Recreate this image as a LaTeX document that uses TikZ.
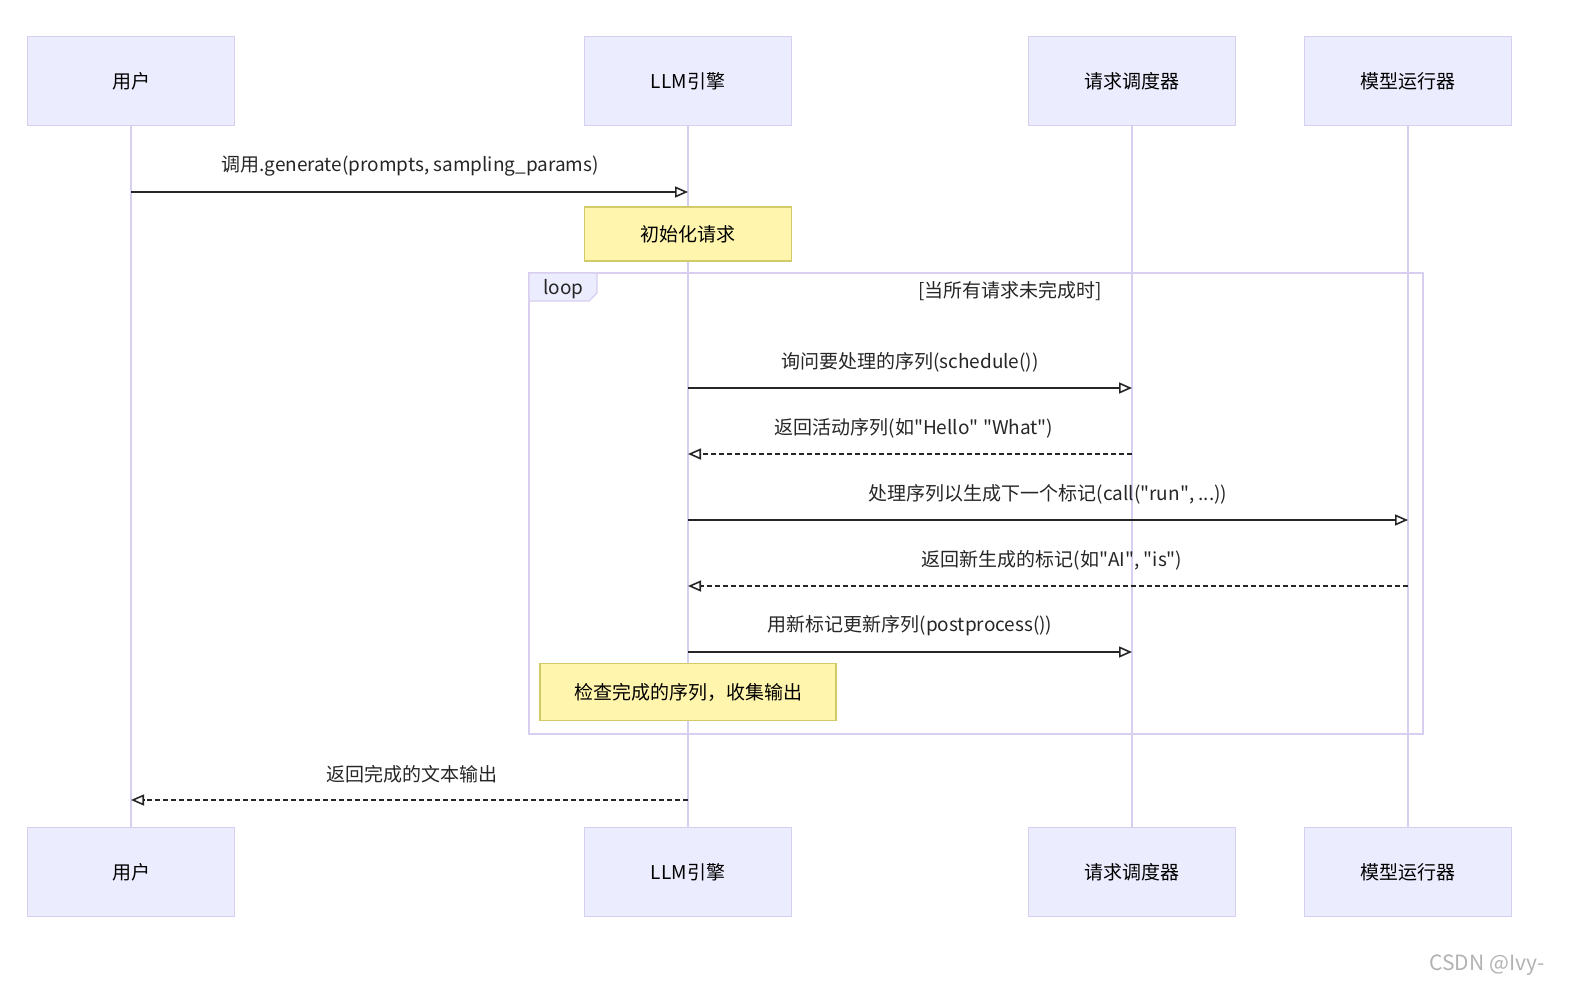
\documentclass[tikz,border=0pt]{standalone}
\usepackage{fontspec}
\setmainfont{Noto Sans CJK SC}
\usetikzlibrary{arrows.meta,patterns}
\definecolor{lav}{HTML}{D8CEF0}
\definecolor{actfill}{HTML}{ECECFF}
\definecolor{notefill}{HTML}{FFF5AD}
\definecolor{noteline}{HTML}{CFCB6A}
\newcommand{\q}{\XeTeXglyph\XeTeXcharglyph"22\relax}
\tikzset{
 actor/.style={draw=lav,fill=actfill,line width=1.4pt,minimum width=207pt,minimum height=89pt,font=\fontsize{19}{22}\selectfont},
 life/.style={draw=lav,line width=2.2pt},
 note/.style={draw=noteline,fill=notefill,line width=1.4pt,font=\fontsize{19}{22}\selectfont},
 msg/.style={line width=1.6pt,-{Triangle[open,length=13pt,width=11pt]},draw=black!85},
 ret/.style={msg,dash pattern=on 5pt off 3pt},
 lbl/.style={font=\fontsize{19}{22}\selectfont,text=black!85}
}
\begin{document}
\begin{tikzpicture}[x=1pt,y=-1pt]
\useasboundingbox (0,0) rectangle (1580,1001);
\foreach \n/\x/\t in {u/131/用户, l/688/LLM引擎, s/1132/请求调度器, m/1408/模型运行器}{
  \draw[life] (\x,126) -- (\x,828);
  \node[actor] (\n t) at (\x,81) {\t};
  \node[actor] (\n b) at (\x,872) {\t};
}
% loop
\draw[lav,line width=1.4pt] (529,273) rectangle (1423,734);
\draw[lav,line width=1.4pt,fill=actfill] (529,273) -- (597,273) -- (597,293) -- (589,301) -- (529,301) -- cycle;
\node[lbl,anchor=west] (lp) at (540,289) {loop};
\node[lbl] (cond) at (1010,291) {[当所有请求未完成时]};
\foreach \n/\x in {u/131,l/688,s/1132,m/1408}{
  \foreach \y in {192,388,454,520,586,652,800}{\coordinate (\n\y) at (\x,\y);}
}
\draw[msg] (u192) -- (l192);
\node[lbl] (t1) at (410,166) {调用.generate(prompts, sampling\_params)};
\node[note,minimum width=207pt,minimum height=54pt] (n1) at (688,234) {初始化请求};
\draw[msg] (l388) -- (s388);
\node[lbl] (t2) at (910,362) {询问要处理的序列(schedule())};
\draw[ret] (s454) -- (l454);
\node[lbl] (t3) at (914,428) {返回活动序列(如\q Hello\q{} \q What\q)};
\draw[msg] (l520) -- (m520);
\node[lbl] (t4) at (1048,494) {处理序列以生成下一个标记(call(\q run\q, ...))};
\draw[ret] (m586) -- (l586);
\node[lbl] (t5) at (1052,560) {返回新生成的标记(如\q AI\q, \q is\q)};
\draw[msg] (l652) -- (s652);
\node[lbl] (t6) at (910,626) {用新标记更新序列(postprocess())};
\node[note,minimum width=296pt,minimum height=57pt] (n2) at (688,692) {检查完成的序列，收集输出};
\draw[ret] (l800) -- (u800);
\node[lbl] (t7) at (412,774) {返回完成的文本输出};
\node[font=\fontsize{21}{24}\selectfont,text=black!30] (wm) at (1487,965) {CSDN @Ivy-};
\end{tikzpicture}
\end{document}
